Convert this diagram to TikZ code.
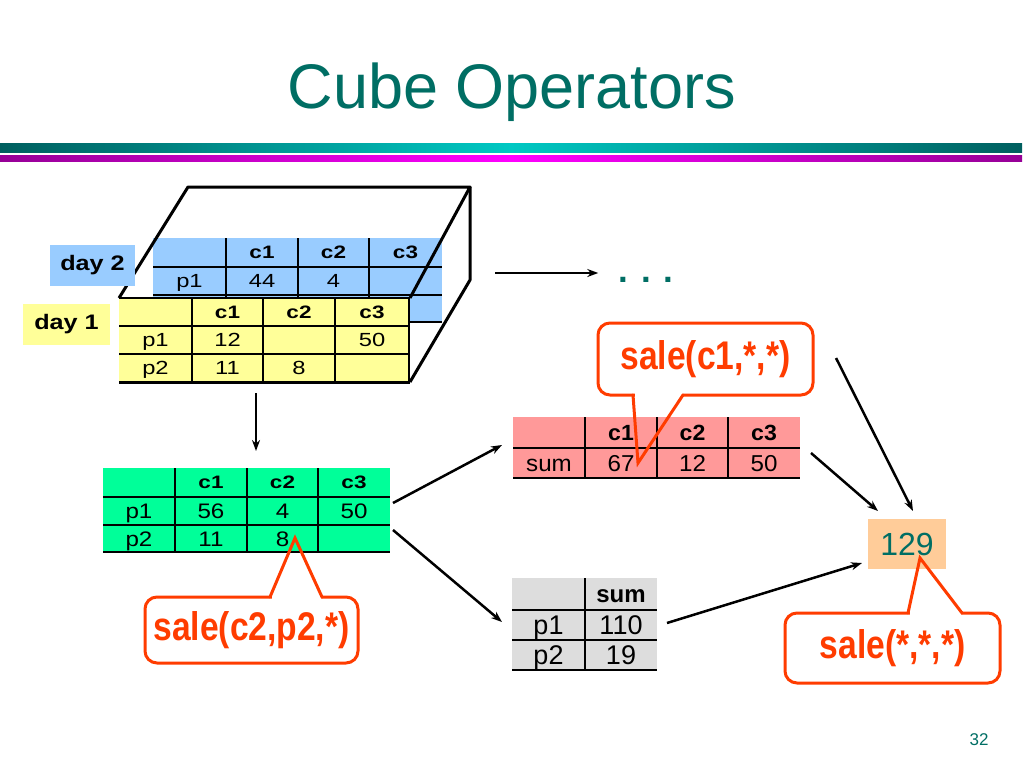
\documentclass[tikz,border=0pt]{standalone}
\usepackage{graphicx}
\usepackage{fontspec}
\setmainfont{Liberation Sans}
\usetikzlibrary{arrows.meta}

\definecolor{slideteal}{RGB}{0,110,100}
\definecolor{bandteal}{RGB}{0,95,95}
\definecolor{bandcyan}{RGB}{0,200,195}
\definecolor{bandpurple}{RGB}{150,0,150}
\definecolor{bandmagenta}{RGB}{255,0,255}
\definecolor{day2blue}{RGB}{153,204,255}
\definecolor{day1yellow}{RGB}{255,255,153}
\definecolor{sumgreen}{RGB}{0,255,153}
\definecolor{sumred}{RGB}{255,153,153}
\definecolor{sumgrey}{RGB}{221,221,221}
\definecolor{totpeach}{RGB}{255,204,153}
\definecolor{callred}{RGB}{255,60,0}

\tikzset{
	tabbg/.style={inner sep=0pt,outer sep=0pt},
	bcell/.style={inner sep=0pt,font=\fontsize{19}{22}\selectfont,xscale=1.25,text height=13.6pt,text depth=0pt},
	bhead/.style={bcell,font=\bfseries\fontsize{18}{21}\selectfont,text height=12.9pt},
	gcell/.style={inner sep=0pt,font=\fontsize{21}{24}\selectfont,xscale=1.15,text height=15pt,text depth=0pt},
	ghead/.style={inner sep=0pt,font=\bfseries\fontsize{18}{21}\selectfont,xscale=1.25,text height=12.9pt,text depth=0pt},
	rcell/.style={inner sep=0pt,font=\fontsize{23}{26}\selectfont,xscale=1.05,text height=16.5pt,text depth=0pt},
	rhead/.style={rcell,font=\bfseries\fontsize{22}{25}\selectfont,text height=15.8pt},
	pcell/.style={inner sep=0pt,font=\fontsize{27}{30}\selectfont,text height=19.3pt,text depth=0pt},
	phead/.style={pcell,font=\bfseries\fontsize{24}{27}\selectfont,text height=17.2pt},
	grid/.style={line width=1.5pt},
	edge/.style={line width=3pt,line join=round},
	arr/.style={line width=2.5pt,-{Stealth[length=11pt,width=8pt]}},
	daylab/.style={font=\bfseries\fontsize{21}{25}\selectfont,minimum height=41pt,inner sep=0pt},
	callout/.style={draw=callred,line width=3pt,fill=white,rounded corners=12pt,text=callred,font=\bfseries\fontsize{40}{44}\selectfont,inner sep=0pt,outer sep=0pt},
	calline/.style={draw=callred,line width=3pt,line cap=round,line join=miter}
}

\begin{document}
\begin{tikzpicture}[x=1pt,y=-1pt]
	\useasboundingbox (0,0) rectangle (1024,768);
	% title and bands
	\node[anchor=base,text=slideteal,font=\fontsize{63}{70}\selectfont,inner sep=0pt] (title) at (512,108) {Cube Operators};
	\shade[left color=bandteal,right color=bandteal,middle color=bandcyan] (0,143) rectangle (1022,152);
	\shade[left color=bandpurple,right color=bandpurple,middle color=bandmagenta] (0,155) rectangle (1022,161);

	% day 2 (back)
	\node[tabbg,fill=day2blue,minimum width=289pt,minimum height=84pt] (d2tab) at (297.5,280) {};
	\draw[grid] (153,267) -- (442,267) (153,295) -- (442,295) (153,322) -- (442,322);
	\draw[grid] (226,238) -- (226,322) (298,238) -- (298,322) (369,238) -- (369,322);
	\node[bhead] (d2c1) at (262,252.5) {c1};
	\node[bhead] (d2c2) at (333.5,252.5) {c2};
	\node[bhead] (d2c3) at (405.5,252.5) {c3};
	\node[bcell] (d2p1) at (189.5,281) {p1};
	\node[bcell] (d2v11) at (262,281) {44};
	\node[bcell] (d2v12) at (333.5,281) {4};

	% cube edges
	\draw[edge] (119,298) -- (188,187) -- (470,187) -- (410,298);
	\draw[edge] (470,187) -- (470,280) -- (410,382);

	% day 1 (front)
	\node[tabbg,fill=day1yellow,minimum width=290pt,minimum height=84pt] (d1tab) at (264,340) {};
	\draw[grid] (119,298) -- (409,298) (119,326) -- (409,326) (119,354) -- (409,354);
	\draw[grid] (192,298) -- (192,382) (263,298) -- (263,382) (335,298) -- (335,382);
	\draw[line width=2pt] (409,297) -- (409,382);
	\draw[edge] (119,382) -- (410,382);
	\node[bhead] (d1c1) at (227.5,312) {c1};
	\node[bhead] (d1c2) at (299,312) {c2};
	\node[bhead] (d1c3) at (372,312) {c3};
	\node[bcell] (d1p1) at (155.5,340) {p1};
	\node[bcell] (d1v11) at (227.5,340) {12};
	\node[bcell] (d1v13) at (372,340) {50};
	\node[bcell] (d1p2) at (155.5,368) {p2};
	\node[bcell] (d1v21) at (227.5,368) {11};
	\node[bcell] (d1v22) at (299,368) {8};

	\node[daylab,fill=day2blue,minimum width=85pt] (d2lab) at (92.5,265.5) {\scalebox{1.2}[1]{day 2}};
	\node[daylab,fill=day1yellow,minimum width=87pt] (d1lab) at (66.5,324.5) {\scalebox{1.2}[1]{day 1}};

	% sum over days
	\node[tabbg,fill=sumgreen,minimum width=287pt,minimum height=84pt] (gtab) at (246.5,510) {};
	\draw[grid] (103,497) -- (390,497) (103,525) -- (390,525) (103,552) -- (390,552);
	\draw[grid] (175,468) -- (175,552) (247,468) -- (247,552) (318,468) -- (318,552);
	\node[ghead] (gc1) at (211,482.5) {c1};
	\node[ghead] (gc2) at (282.5,482.5) {c2};
	\node[ghead] (gc3) at (354,482.5) {c3};
	\node[gcell] (gp1) at (139,511) {p1};
	\node[gcell] (gv11) at (211,511) {56};
	\node[gcell] (gv12) at (282.5,511) {4};
	\node[gcell] (gv13) at (354,511) {50};
	\node[gcell] (gp2) at (139,538.5) {p2};
	\node[gcell] (gv21) at (211,538.5) {11};
	\node[gcell] (gv22) at (282.5,538.5) {8};

	% sum over products
	\node[tabbg,fill=sumred,minimum width=287pt,minimum height=61pt] (rtab) at (656.5,447.5) {};
	\draw[grid] (513,448) -- (800,448) (513,478) -- (800,478);
	\draw[grid] (585,417) -- (585,478) (657,417) -- (657,478) (728,417) -- (728,478);
	\node[rhead] (rc1) at (621,432.5) {c1};
	\node[rhead] (rc2) at (692.5,432.5) {c2};
	\node[rhead] (rc3) at (764,432.5) {c3};
	\node[rcell] (rsum) at (549,463) {sum};
	\node[rcell] (rv1) at (621,463) {67};
	\node[rcell] (rv2) at (692.5,463) {12};
	\node[rcell] (rv3) at (764,463) {50};

	% sum over customers
	\node[tabbg,fill=sumgrey,minimum width=145pt,minimum height=92pt] (ptab) at (584.5,624) {};
	\draw[grid] (512,610) -- (657,610) (512,640) -- (657,640) (512,670) -- (657,670);
	\draw[grid] (585,578) -- (585,670);
	\node[phead] (psum) at (621,594) {sum};
	\node[pcell] (pp1) at (548.5,625) {p1};
	\node[pcell] (pv1) at (621,625) {110};
	\node[pcell] (pp2) at (548.5,655) {p2};
	\node[pcell] (pv2) at (621,655) {19};

	% grand total
	\node[tabbg,fill=totpeach,minimum width=78pt,minimum height=50pt,text=slideteal,font=\fontsize{32}{36}\selectfont] (tot) at (907,544) {129};

	\node[text=slideteal,font=\bfseries\fontsize{35}{40}\selectfont,inner sep=0pt,text height=0pt,text depth=0pt] (dots) at (646,282) {. . .};

	% arrows
	\draw[arr] ([shift={(53,-7)}]d2tab.east) -- ([shift={(-20,-9)}]dots.west);
	\draw[arr] ([shift={(-8,11)}]d1tab.south) -- ([shift={(9.5,-17)}]gtab.north);
	\draw[arr] ([shift={(3,-7)}]gtab.east) -- ([shift={(-11,-2.5)}]rtab.west);
	\draw[arr] ([shift={(3,20)}]gtab.east) -- ([shift={(-10,-2)}]ptab.west);
	\draw[arr] ([shift={(11,5.5)}]rtab.east) -- ([shift={(-29,-8)}]tot.north);
	\draw[arr] ([shift={(10,-1)}]ptab.east) -- ([shift={(-6,19)}]tot.west);

	% callouts
	\node[callout,minimum width=213pt,minimum height=66pt] (sc2) at (251.5,630) {\scalebox{0.84}[1]{sale(c2,p2,*)}};
	\coordinate (sc2tip) at (295,538);
	\draw[white,line width=4pt] ([shift={(20,0)}]sc2.north) -- ([shift={(69,0)}]sc2.north);
	\draw[calline] ([shift={(18.5,0)}]sc2.north) -- (sc2tip) -- ([shift={(70.5,0)}]sc2.north);

	\node[callout,minimum width=215pt,minimum height=72pt] (sc1) at (705.5,359) {\scalebox{0.84}[1]{sale(c1,*,*)}};
	\coordinate (sc1tip) at (638,463);
	\draw[white,line width=4pt] ([shift={(-71,0)}]sc1.south) -- ([shift={(-24,0)}]sc1.south);
	\draw[calline] ([shift={(-72.5,0)}]sc1.south) -- (sc1tip) -- ([shift={(-22.5,0)}]sc1.south);

	\node[callout,minimum width=215pt,minimum height=70pt] (sall) at (892.5,648) {\scalebox{0.84}[1]{sale(*,*,*)}};
	\coordinate (salltip) at (920,558);
	\draw[white,line width=4pt] ([shift={(17,0)}]sall.north) -- ([shift={(68,0)}]sall.north);
	\draw[calline] ([shift={(15.5,0)}]sall.north) -- (salltip) -- ([shift={(69.5,0)}]sall.north);

	\draw[arr] ([shift={(23,-1)}]sc1.east) -- ([shift={(6,-8)}]tot.north);

	\node[anchor=base,text=slideteal,font=\fontsize{17}{20}\selectfont,inner sep=0pt] (pagenum) at (979,745) {32};
\end{tikzpicture}
\end{document}
